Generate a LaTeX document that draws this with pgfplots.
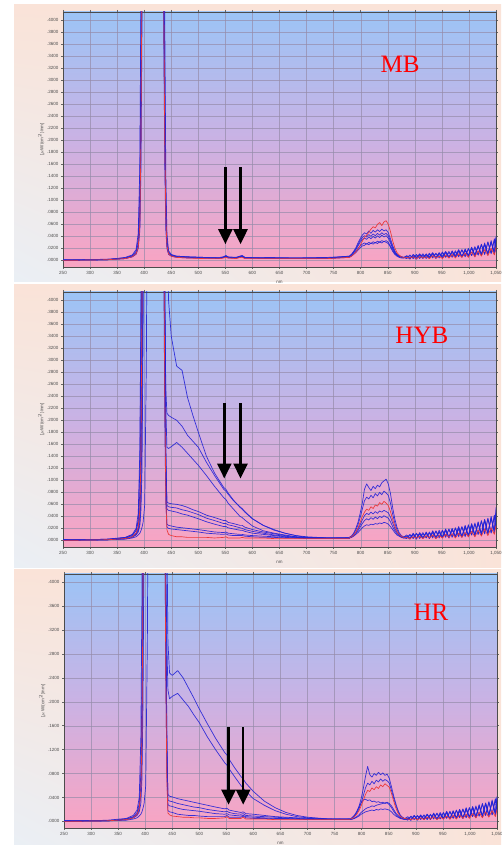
\documentclass[border=0pt]{standalone}
\usepackage{fontspec}
\setmainfont{Liberation Sans}
\newfontfamily\labelfont{Liberation Serif}
\usepackage{pgfplots}
\pgfplotsset{compat=1.18}
\usepackage{pgfplotstable}
\usetikzlibrary{arrows.meta,shadings}

\definecolor{spec}{RGB}{35,35,215}
\definecolor{specred}{RGB}{235,55,55}
\definecolor{skytop}{RGB}{156,196,246}
\definecolor{skymid}{RGB}{202,178,228}
\definecolor{skybot}{RGB}{250,164,194}
\definecolor{peach}{RGB}{250,227,216}
\definecolor{mist}{RGB}{234,239,245}
\definecolor{gridcol}{RGB}{150,140,170}

% ---------- MB ----------
\pgfplotstableread{
x     a     b     c     d     e     r
250 0.000 0.001 0.000 0.001 0.000 0.000
330 0.001 0.001 0.002 0.001 0.001 0.001
365 0.003 0.004 0.004 0.003 0.005 0.003
378 0.006 0.008 0.007 0.006 0.009 0.006
385 0.011 0.015 0.013 0.010 0.018 0.011
389 0.022 0.035 0.028 0.020 0.045 0.022
392 0.06 0.12 0.09 0.05 0.16 0.06
394 0.20 0.35 0.28 0.15 0.45 0.20
396 0.50 0.70 0.60 0.40 0.80 0.50
398 0.90 1.0 0.95 0.80 1.0 0.90
430 1.0 1.0 1.0 1.0 1.0 1.0
434 0.80 0.90 0.70 0.85 0.95 0.80
436 0.45 0.60 0.40 0.50 0.70 0.45
438 0.20 0.30 0.16 0.25 0.40 0.20
440 0.07 0.10 0.05 0.08 0.14 0.07
442 0.025 0.035 0.020 0.030 0.045 0.025
445 0.012 0.014 0.010 0.012 0.016 0.011
450 0.008 0.009 0.007 0.008 0.010 0.007
460 0.006 0.007 0.005 0.006 0.007 0.005
480 0.005 0.006 0.004 0.005 0.006 0.004
510 0.004 0.005 0.004 0.004 0.005 0.003
540 0.004 0.004 0.003 0.004 0.005 0.003
547 0.005 0.006 0.005 0.005 0.006 0.004
551 0.007 0.008 0.006 0.007 0.008 0.005
555 0.005 0.005 0.004 0.005 0.006 0.004
570 0.004 0.005 0.004 0.004 0.005 0.003
577 0.006 0.007 0.005 0.006 0.007 0.005
581 0.007 0.008 0.006 0.007 0.008 0.005
586 0.004 0.005 0.004 0.004 0.005 0.003
620 0.004 0.004 0.003 0.004 0.005 0.003
680 0.003 0.004 0.003 0.004 0.004 0.003
740 0.004 0.004 0.003 0.004 0.005 0.003
779 0.006 0.006 0.005 0.007 0.007 0.005
783 0.008 0.009 0.007 0.010 0.010 0.007
787 0.011 0.013 0.010 0.014 0.015 0.010
791 0.015 0.018 0.013 0.019 0.021 0.014
795 0.020 0.024 0.017 0.026 0.029 0.019
799 0.024 0.030 0.021 0.033 0.036 0.025
803 0.027 0.035 0.024 0.038 0.042 0.032
807 0.029 0.037 0.025 0.041 0.046 0.038
811 0.027 0.035 0.028 0.039 0.044 0.042
815 0.030 0.039 0.026 0.043 0.049 0.047
819 0.028 0.036 0.029 0.040 0.045 0.052
823 0.031 0.040 0.027 0.044 0.050 0.056
827 0.029 0.037 0.030 0.041 0.047 0.054
831 0.032 0.041 0.028 0.045 0.051 0.060
835 0.030 0.038 0.031 0.042 0.048 0.063
839 0.033 0.042 0.029 0.046 0.052 0.058
843 0.031 0.039 0.032 0.043 0.049 0.064
847 0.033 0.041 0.030 0.045 0.051 0.066
851 0.030 0.037 0.028 0.041 0.046 0.060
855 0.024 0.029 0.022 0.032 0.036 0.048
859 0.017 0.020 0.015 0.022 0.025 0.033
863 0.011 0.013 0.010 0.014 0.016 0.021
867 0.008 0.009 0.007 0.009 0.010 0.013
871 0.006 0.007 0.005 0.007 0.008 0.009
875 0.005 0.006 0.004 0.006 0.006 0.006
879 0.004 0.005 0.004 0.005 0.005 0.005
885 0.006 0.003 0.008 0.004 0.007 0.005
891 0.003 0.008 0.004 0.009 0.002 0.004
897 0.009 0.004 0.007 0.003 0.010 0.006
903 0.004 0.010 0.002 0.008 0.005 0.003
909 0.010 0.003 0.009 0.005 0.011 0.007
915 0.003 0.009 0.005 0.011 0.004 0.004
921 0.011 0.005 0.010 0.003 0.009 0.006
927 0.004 0.012 0.003 0.010 0.006 0.003
933 0.012 0.004 0.011 0.006 0.013 0.008
939 0.005 0.011 0.004 0.012 0.003 0.004
945 0.013 0.006 0.012 0.004 0.011 0.007
951 0.004 0.014 0.005 0.013 0.007 0.003
957 0.014 0.005 0.013 0.006 0.015 0.009
963 0.006 0.013 0.004 0.015 0.005 0.004
969 0.015 0.007 0.016 0.005 0.013 0.010
975 0.005 0.016 0.006 0.014 0.008 0.004
981 0.017 0.006 0.015 0.007 0.018 0.011
987 0.007 0.018 0.005 0.017 0.006 0.005
993 0.018 0.008 0.019 0.006 0.016 0.012
999 0.006 0.020 0.007 0.019 0.009 0.005
1005 0.021 0.008 0.022 0.008 0.020 0.014
1011 0.008 0.023 0.006 0.021 0.010 0.006
1017 0.024 0.009 0.025 0.009 0.023 0.016
1023 0.009 0.026 0.008 0.027 0.011 0.007
1029 0.027 0.010 0.029 0.010 0.026 0.018
1035 0.010 0.030 0.009 0.031 0.012 0.008
1041 0.031 0.012 0.033 0.011 0.030 0.020
1047 0.012 0.034 0.010 0.036 0.014 0.009
1050 0.036 0.015 0.038 0.014 0.040 0.022
}\mbdata

% ---------- HYB ----------
\pgfplotstableread{
x   h1 h2 h3 m1 m2 m3 l1 l2 r
250 0.000 0.001 0.000 0.001 0.000 0.001 0.000 0.001 0.000
330 0.001 0.001 0.002 0.001 0.001 0.001 0.002 0.001 0.001
365 0.004 0.003 0.004 0.005 0.003 0.002 0.005 0.003 0.003
378 0.008 0.006 0.006 0.009 0.006 0.004 0.010 0.005 0.006
385 0.016 0.012 0.010 0.017 0.011 0.006 0.020 0.009 0.012
389 0.035 0.022 0.016 0.030 0.019 0.009 0.045 0.014 0.022
392 0.12 0.05 0.03 0.08 0.04 0.012 0.15 0.025 0.05
394 0.35 0.14 0.07 0.22 0.10 0.016 0.40 0.05 0.14
396 0.70 0.40 0.20 0.55 0.30 0.022 0.75 0.12 0.40
398 1.0 0.80 0.50 0.90 0.65 0.03 1.0 0.35 0.80
401 1.0 1.0 0.90 1.0 1.0 0.06 1.0 0.75 1.0
404 1.0 1.0 1.0 1.0 1.0 0.30 1.0 1.0 1.0
407 1.0 1.0 1.0 1.0 1.0 0.80 1.0 1.0 1.0
434 1.0 1.0 1.0 1.0 1.0 1.0 1.0 1.0 1.0
436 1.0 0.70 0.80 0.60 0.75 0.65 0.50 0.70 0.55
438 1.0 0.40 0.45 0.30 0.40 0.35 0.20 0.35 0.25
440 0.70 0.25 0.22 0.12 0.15 0.14 0.06 0.10 0.07
442 0.52 0.212 0.155 0.064 0.058 0.052 0.027 0.022 0.018
445 0.40 0.208 0.153 0.062 0.056 0.050 0.025 0.020 0.010
450 0.34 0.205 0.156 0.061 0.055 0.049 0.024 0.019 0.008
460 0.29 0.200 0.163 0.060 0.054 0.047 0.022 0.018 0.006
470 0.283 0.190 0.155 0.058 0.051 0.044 0.021 0.017 0.006
480 0.238 0.175 0.145 0.055 0.049 0.042 0.020 0.016 0.005
490 0.208 0.165 0.135 0.051 0.046 0.039 0.019 0.015 0.005
500 0.180 0.155 0.125 0.048 0.043 0.036 0.018 0.014 0.005
515 0.140 0.130 0.108 0.042 0.037 0.031 0.016 0.012 0.005
530 0.112 0.108 0.090 0.038 0.033 0.027 0.014 0.011 0.004
547 0.088 0.085 0.071 0.033 0.028 0.023 0.013 0.010 0.005
551 0.085 0.082 0.068 0.033 0.028 0.023 0.014 0.011 0.006
555 0.079 0.077 0.062 0.030 0.026 0.021 0.012 0.009 0.004
565 0.067 0.066 0.052 0.028 0.024 0.019 0.011 0.008 0.004
577 0.055 0.056 0.040 0.025 0.021 0.017 0.010 0.008 0.004
581 0.052 0.053 0.038 0.025 0.020 0.017 0.010 0.008 0.005
586 0.047 0.048 0.034 0.022 0.018 0.015 0.009 0.007 0.004
600 0.036 0.036 0.024 0.018 0.015 0.012 0.008 0.006 0.004
620 0.025 0.025 0.016 0.014 0.012 0.010 0.007 0.005 0.004
640 0.017 0.018 0.012 0.011 0.009 0.008 0.006 0.005 0.003
660 0.012 0.012 0.009 0.008 0.007 0.006 0.005 0.004 0.003
680 0.008 0.008 0.006 0.006 0.005 0.005 0.004 0.004 0.003
700 0.005 0.006 0.005 0.005 0.004 0.004 0.004 0.003 0.003
740 0.004 0.004 0.004 0.004 0.003 0.004 0.003 0.003 0.003
779 0.004 0.004 0.004 0.004 0.004 0.004 0.003 0.004 0.003
}\hybleft

\pgfplotstableread{
x   p1 p2 p3 p4 p5 r
779 0.005 0.005 0.004 0.004 0.004 0.004
783 0.007 0.007 0.006 0.005 0.005 0.006
787 0.012 0.011 0.009 0.008 0.007 0.009
791 0.020 0.017 0.013 0.011 0.010 0.014
795 0.030 0.026 0.019 0.016 0.013 0.021
799 0.045 0.038 0.026 0.022 0.017 0.030
803 0.062 0.052 0.034 0.028 0.021 0.040
807 0.085 0.066 0.041 0.033 0.024 0.047
811 0.094 0.072 0.045 0.036 0.026 0.052
815 0.088 0.069 0.043 0.034 0.025 0.050
819 0.083 0.075 0.047 0.038 0.027 0.056
823 0.090 0.071 0.044 0.035 0.026 0.053
827 0.086 0.078 0.048 0.039 0.028 0.059
831 0.092 0.074 0.045 0.036 0.027 0.057
835 0.089 0.080 0.049 0.040 0.029 0.063
839 0.096 0.076 0.047 0.038 0.028 0.060
843 0.099 0.082 0.050 0.041 0.030 0.065
847 0.102 0.079 0.048 0.039 0.029 0.062
851 0.094 0.075 0.046 0.037 0.027 0.058
855 0.078 0.062 0.039 0.031 0.023 0.048
859 0.055 0.044 0.029 0.023 0.018 0.035
863 0.036 0.029 0.020 0.016 0.013 0.024
867 0.022 0.018 0.013 0.011 0.009 0.015
871 0.013 0.011 0.009 0.008 0.007 0.010
875 0.008 0.007 0.006 0.006 0.005 0.007
879 0.006 0.005 0.005 0.004 0.004 0.005
885 0.007 0.003 0.009 0.004 0.006 0.005
891 0.002 0.009 0.004 0.010 0.003 0.003
897 0.010 0.004 0.011 0.003 0.012 0.006
903 0.003 0.012 0.002 0.011 0.004 0.004
909 0.013 0.003 0.012 0.005 0.010 0.007
915 0.004 0.011 0.003 0.013 0.005 0.003
921 0.012 0.005 0.014 0.004 0.013 0.008
927 0.003 0.014 0.004 0.012 0.003 0.004
933 0.015 0.004 0.013 0.006 0.016 0.009
939 0.005 0.016 0.003 0.015 0.005 0.003
945 0.014 0.006 0.017 0.004 0.014 0.008
951 0.004 0.017 0.005 0.016 0.006 0.004
957 0.018 0.005 0.016 0.007 0.019 0.010
963 0.006 0.019 0.004 0.018 0.004 0.005
969 0.019 0.007 0.020 0.005 0.017 0.011
975 0.005 0.021 0.006 0.020 0.007 0.004
981 0.022 0.006 0.019 0.008 0.023 0.012
987 0.007 0.023 0.005 0.022 0.006 0.005
993 0.024 0.008 0.025 0.006 0.021 0.013
999 0.006 0.025 0.008 0.026 0.009 0.006
1005 0.027 0.009 0.024 0.009 0.028 0.015
1011 0.008 0.029 0.007 0.027 0.010 0.006
1017 0.030 0.010 0.031 0.010 0.028 0.017
1023 0.009 0.032 0.009 0.033 0.012 0.007
1029 0.034 0.011 0.033 0.011 0.035 0.019
1035 0.011 0.036 0.010 0.037 0.013 0.008
1041 0.038 0.013 0.040 0.012 0.036 0.021
1047 0.013 0.042 0.012 0.041 0.016 0.010
1050 0.055 0.020 0.048 0.018 0.045 0.025
}\hybright

% ---------- HR ----------
\pgfplotstableread{
x   t1 t2 g1 g2 g3 b1 r
250 0.000 0.001 0.000 0.001 0.000 0.001 0.000
330 0.001 0.001 0.002 0.001 0.001 0.001 0.001
365 0.004 0.003 0.005 0.003 0.002 0.004 0.003
378 0.008 0.006 0.010 0.006 0.004 0.007 0.006
385 0.015 0.011 0.019 0.010 0.006 0.013 0.012
389 0.030 0.020 0.040 0.016 0.009 0.025 0.022
392 0.08 0.045 0.14 0.03 0.012 0.06 0.05
394 0.22 0.11 0.38 0.07 0.016 0.16 0.14
396 0.55 0.30 0.72 0.20 0.022 0.42 0.40
398 0.90 0.65 1.0 0.50 0.03 0.80 0.80
401 1.0 1.0 1.0 0.90 0.06 1.0 1.0
404 1.0 1.0 1.0 1.0 0.30 1.0 1.0
407 1.0 1.0 1.0 1.0 0.80 1.0 1.0
434 1.0 1.0 1.0 1.0 1.0 1.0 1.0
436 1.0 0.80 0.60 0.75 0.65 0.55 0.55
438 0.80 0.45 0.30 0.40 0.35 0.25 0.25
440 0.50 0.30 0.12 0.15 0.14 0.08 0.07
442 0.30 0.22 0.045 0.036 0.028 0.018 0.014
445 0.248 0.205 0.042 0.034 0.026 0.016 0.011
450 0.244 0.209 0.041 0.033 0.025 0.015 0.009
460 0.252 0.214 0.038 0.030 0.022 0.012 0.008
470 0.240 0.203 0.036 0.028 0.020 0.011 0.007
480 0.223 0.192 0.034 0.026 0.019 0.010 0.007
490 0.206 0.178 0.032 0.024 0.018 0.010 0.006
500 0.188 0.165 0.030 0.023 0.017 0.009 0.006
515 0.163 0.141 0.027 0.020 0.015 0.008 0.005
530 0.139 0.120 0.024 0.018 0.013 0.008 0.005
547 0.115 0.098 0.021 0.016 0.012 0.008 0.006
551 0.111 0.094 0.022 0.017 0.013 0.010 0.008
555 0.104 0.088 0.019 0.015 0.011 0.007 0.005
565 0.090 0.075 0.017 0.013 0.010 0.007 0.005
577 0.075 0.060 0.015 0.012 0.009 0.007 0.005
581 0.071 0.056 0.016 0.013 0.010 0.009 0.007
586 0.064 0.050 0.013 0.010 0.008 0.006 0.004
600 0.050 0.038 0.012 0.009 0.007 0.005 0.004
620 0.034 0.027 0.010 0.008 0.006 0.005 0.004
640 0.023 0.018 0.008 0.007 0.005 0.004 0.003
660 0.015 0.012 0.007 0.006 0.005 0.004 0.003
680 0.010 0.008 0.006 0.005 0.004 0.004 0.003
700 0.007 0.006 0.005 0.004 0.004 0.003 0.003
740 0.004 0.004 0.004 0.004 0.003 0.003 0.003
779 0.004 0.004 0.004 0.003 0.004 0.003 0.003
}\hrleft

\pgfplotstableread{
x   q1 q2 q3 q4 q5 r
779 0.004 0.004 0.004 0.003 0.003 0.004
783 0.006 0.006 0.007 0.004 0.004 0.005
787 0.010 0.009 0.011 0.006 0.005 0.008
791 0.016 0.014 0.017 0.008 0.007 0.012
795 0.025 0.021 0.024 0.011 0.009 0.018
799 0.038 0.031 0.031 0.015 0.012 0.026
803 0.055 0.043 0.036 0.018 0.014 0.035
807 0.075 0.056 0.037 0.021 0.016 0.045
811 0.092 0.064 0.035 0.023 0.017 0.052
815 0.078 0.061 0.036 0.024 0.018 0.050
819 0.074 0.067 0.033 0.026 0.019 0.056
823 0.080 0.063 0.034 0.025 0.018 0.053
827 0.077 0.069 0.032 0.027 0.020 0.058
831 0.082 0.066 0.033 0.028 0.019 0.055
835 0.078 0.071 0.031 0.029 0.021 0.061
839 0.081 0.067 0.032 0.030 0.020 0.058
843 0.077 0.070 0.030 0.031 0.021 0.063
847 0.079 0.068 0.031 0.032 0.020 0.060
851 0.072 0.064 0.028 0.030 0.019 0.057
855 0.058 0.052 0.023 0.026 0.016 0.047
859 0.043 0.039 0.017 0.020 0.012 0.034
863 0.030 0.027 0.012 0.014 0.009 0.023
867 0.019 0.017 0.008 0.010 0.007 0.014
871 0.011 0.010 0.006 0.007 0.005 0.009
875 0.007 0.007 0.005 0.005 0.004 0.006
879 0.005 0.005 0.004 0.004 0.003 0.005
885 0.006 0.002 0.008 0.003 0.005 0.004
891 0.002 0.008 0.003 0.009 0.002 0.003
897 0.009 0.003 0.010 0.004 0.010 0.005
903 0.003 0.010 0.002 0.009 0.003 0.003
909 0.011 0.004 0.010 0.003 0.009 0.006
915 0.003 0.010 0.004 0.011 0.004 0.003
921 0.011 0.003 0.012 0.004 0.012 0.007
927 0.004 0.012 0.003 0.011 0.003 0.004
933 0.013 0.004 0.012 0.005 0.014 0.008
939 0.004 0.014 0.004 0.013 0.004 0.003
945 0.013 0.005 0.015 0.004 0.012 0.007
951 0.004 0.015 0.005 0.014 0.005 0.004
957 0.016 0.005 0.014 0.006 0.017 0.009
963 0.005 0.017 0.004 0.016 0.004 0.004
969 0.017 0.006 0.018 0.005 0.016 0.010
975 0.005 0.019 0.006 0.018 0.006 0.004
981 0.020 0.006 0.017 0.007 0.020 0.011
987 0.006 0.021 0.005 0.020 0.005 0.005
993 0.022 0.007 0.023 0.006 0.019 0.012
999 0.006 0.023 0.007 0.023 0.008 0.005
1005 0.024 0.008 0.022 0.008 0.025 0.013
1011 0.007 0.026 0.006 0.024 0.009 0.006
1017 0.027 0.009 0.028 0.009 0.025 0.015
1023 0.008 0.029 0.008 0.030 0.010 0.006
1029 0.030 0.010 0.029 0.010 0.031 0.016
1035 0.010 0.032 0.009 0.033 0.011 0.007
1041 0.034 0.011 0.036 0.011 0.032 0.018
1047 0.012 0.037 0.011 0.038 0.014 0.008
1050 0.040 0.016 0.042 0.015 0.038 0.020
}\hrright

\tikzset{
  mark arrow/.style={black, line width=2.6pt, -{Triangle[width=14pt,length=15pt]}},
  tag/.style={text=red, font=\labelfont\fontsize{25}{27}\selectfont},
}

\pgfplotsset{
  spectrum/.style={
    scale only axis, width=433pt, height=255pt,
    xmin=250, xmax=1050, ymin=-0.011, ymax=0.4135,
    xtick={250,300,350,400,450,500,550,600,650,700,750,800,850,900,950,1000,1050},
    xticklabels={250,300,350,400,450,500,550,600,650,700,750,800,850,900,950,{1,000},{1,050}},
    grid=major, grid style={gridcol, line width=0.35pt, opacity=0.7},
    axis line style={black!70, line width=0.8pt},
    tick style={black!60, line width=0.4pt},
    major tick length=2pt, tick align=outside,
    ticklabel style={font=\fontsize{4.5}{5}\selectfont, text=black!70},
    xticklabel style={yshift=1pt},
    yticklabel style={xshift=1pt},
    xlabel={nm}, xlabel style={font=\fontsize{4.5}{5}\selectfont, text=black!70, yshift=1pt},
    ylabel={[$\mu$W/(cm$^2$)/nm]},
    ylabel style={font=\fontsize{4.5}{5}\selectfont, text=black!70, yshift=-4pt},
    axis background/.style={top color=skytop, bottom color=skybot, middle color=skymid},
  },
  fine y/.style={
    ytick={0,0.02,0.04,0.06,0.08,0.1,0.12,0.14,0.16,0.18,0.2,0.22,0.24,0.26,0.28,0.3,0.32,0.34,0.36,0.38,0.4},
    yticklabels={.0000,.0200,.0400,.0600,.0800,.1000,.1200,.1400,.1600,.1800,.2000,.2200,.2400,.2600,.2800,.3000,.3200,.3400,.3600,.3800,.4000},
  },
  coarse y/.style={
    ytick={0,0.04,0.08,0.12,0.16,0.2,0.24,0.28,0.32,0.36,0.4},
    yticklabels={.0000,.0400,.0800,.1200,.1600,.2000,.2400,.2800,.3200,.3600,.4000},
  },
  blueline/.style={color=spec, line width=0.7pt, opacity=0.9, line join=round},
  redline/.style={color=specred, line width=0.65pt, line join=round},
}

\begin{document}
\begin{tikzpicture}
\useasboundingbox (0pt,0pt) rectangle (501pt,845pt);
\fill[white] (0pt,0pt) rectangle (501pt,845pt);
\shade[upper left=peach, upper right=peach, lower left=mist, lower right=peach] (14pt,563pt) rectangle (501pt,840pt);
\shade[upper left=peach, upper right=peach, lower left=mist, lower right=peach] (14pt,277pt) rectangle (501pt,560pt);
\shade[upper left=peach, upper right=peach, lower left=mist, lower right=peach] (14pt,0pt) rectangle (501pt,275pt);

% MB
\begin{axis}[spectrum, fine y, at={(63pt,578pt)}, anchor=south west]
\pgfplotsinvokeforeach{a,b,c,d,e}{\addplot[blueline] table[x=x,y=#1]{\mbdata};}
\addplot[redline] table[x=x,y=r]{\mbdata};
\draw[mark arrow] (axis cs:550,0.155) -- (axis cs:550,0.027);
\draw[mark arrow] (axis cs:578,0.155) -- (axis cs:578,0.027);
\node[tag] at (axis cs:873,0.326) {MB};
\end{axis}

% HYB
\begin{axis}[spectrum, fine y, at={(63pt,298pt)}, anchor=south west]
\pgfplotsinvokeforeach{h1,h2,h3,m1,m2,m3,l1,l2}{\addplot[blueline] table[x=x,y=#1]{\hybleft};}
\addplot[redline] table[x=x,y=r]{\hybleft};
\pgfplotsinvokeforeach{p1,p2,p3,p4,p5}{\addplot[blueline] table[x=x,y=#1]{\hybright};}
\addplot[redline] table[x=x,y=r]{\hybright};
\draw[mark arrow] (axis cs:548,0.228) -- (axis cs:548,0.103);
\draw[mark arrow] (axis cs:578,0.228) -- (axis cs:578,0.103);
\node[tag] at (axis cs:913,0.342) {HYB};
\end{axis}

% HR
\begin{axis}[spectrum, coarse y, height=254pt, at={(64pt,17pt)}, anchor=south west]
\pgfplotsinvokeforeach{t1,t2,g1,g2,g3,b1}{\addplot[blueline] table[x=x,y=#1]{\hrleft};}
\addplot[redline] table[x=x,y=r]{\hrleft};
\pgfplotsinvokeforeach{q1,q2,q3,q4,q5}{\addplot[blueline] table[x=x,y=#1]{\hrright};}
\addplot[redline] table[x=x,y=r]{\hrright};
\draw[mark arrow] (axis cs:554,0.157) -- (axis cs:554,0.028);
\draw[mark arrow] (axis cs:581,0.157) -- (axis cs:581,0.028);
\node[tag] at (axis cs:928,0.35) {HR};
\end{axis}
\end{tikzpicture}
\end{document}
